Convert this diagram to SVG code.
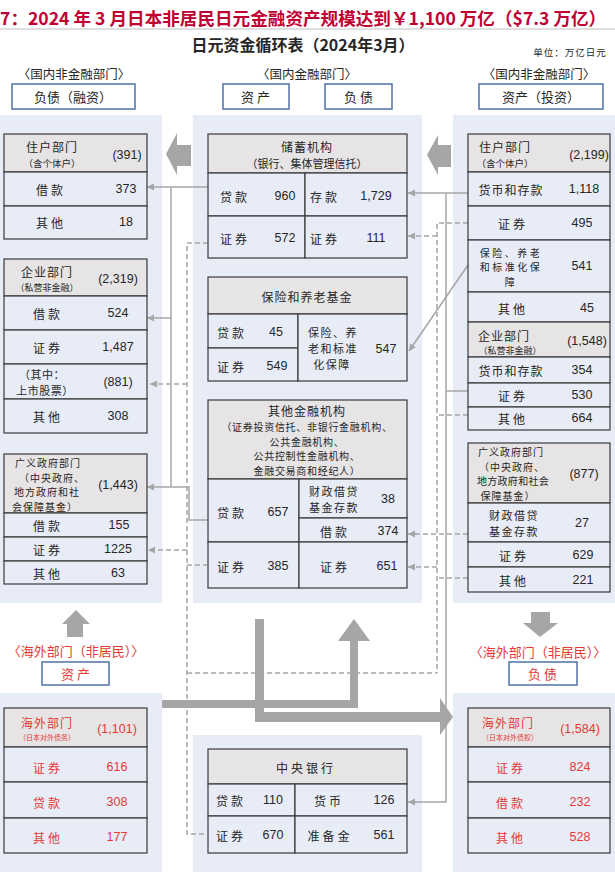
<svg xmlns="http://www.w3.org/2000/svg" width="615" height="872" viewBox="0 0 615 872">
<style>
.t{font-family:"Noto Sans CJK SC","Noto Sans",sans-serif;font-size:12px;fill:#262626;text-anchor:middle;dominant-baseline:central}
.n{font-family:"Liberation Sans",Arial,sans-serif;font-size:12.5px;fill:#262626;text-anchor:middle;dominant-baseline:central}
.sp{letter-spacing:3px}
.s1{letter-spacing:1px}
.sm{font-size:9px;letter-spacing:0}
.xs{font-size:7px;letter-spacing:0}
.m{font-size:10px;letter-spacing:1px}
.r{fill:#e53935}
.pnl{fill:#e8ecf7}
.cell{fill:#e8ecf7;stroke:#3a3a3a;stroke-width:1.2}
.hd{fill:#e6e4e4;stroke:#3a3a3a;stroke-width:1.2}
.hb{fill:#fff;stroke:#4f72a8;stroke-width:1.5}
.ln{fill:none;stroke:#a6a6a6;stroke-width:1.5}
.dl{stroke-dasharray:5 3}
.blk{fill:#a6a6a6}
tspan{dominant-baseline:central}
</style>
<defs>
<marker id="ah" markerUnits="userSpaceOnUse" markerWidth="8" markerHeight="8" refX="7" refY="3.5" orient="auto">
<path d="M0,0 L7,3.5 L0,7 z" fill="#a6a6a6"/>
</marker>
</defs>
<rect width="615" height="872" fill="#fff"/>
<g id="title">
<text x="0" y="17" style="font-family:'Noto Sans CJK SC',sans-serif;font-size:17.6px;font-weight:bold;fill:#c00032;dominant-baseline:central">7：2024 年 3 月日本非居民日元金融资产规模达到￥1,100 万亿（$7.3 万亿）</text>
<line x1="0" y1="29" x2="615" y2="29" stroke="#bfbfbf" stroke-width="1"/>
<text x="303" y="44" class="t" style="font-size:16px;font-weight:bold">日元资金循环表（2024年3月）</text>
<text x="570" y="52" class="t s1" style="font-size:9.5px">单位：万亿日元</text>
</g>
<g id="panels">
<rect class="pnl" x="0" y="115" width="162" height="488"/>
<rect class="pnl" x="193" y="115" width="229" height="488"/>
<rect class="pnl" x="453" y="115" width="162" height="488"/>
<rect class="pnl" x="0" y="693" width="162" height="179"/>
<rect class="pnl" x="193" y="735" width="229" height="137"/>
<rect class="pnl" x="453" y="693" width="162" height="179"/>
</g>
<g id="headers">
<text x="74" y="73" class="t" style="font-size:12.5px">〈国内非金融部门〉</text>
<text x="307" y="73" class="t" style="font-size:12.5px">〈国内金融部门〉</text>
<text x="539" y="73" class="t" style="font-size:12.5px">〈国内非金融部门〉</text>
<rect class="hb" x="12" y="84" width="123" height="25"/>
<text x="73" y="96.5" class="t" style="font-size:13px">负债（融资）</text>
<rect class="hb" x="223" y="84" width="66" height="25"/>
<text x="257" y="96.5" class="t sp" style="font-size:13px">资产</text>
<rect class="hb" x="325" y="84" width="67" height="25"/>
<text x="360" y="96.5" class="t sp" style="font-size:13px">负债</text>
<rect class="hb" x="479" y="84" width="124" height="25"/>
<text x="541" y="96.5" class="t" style="font-size:13px">资产（投资）</text>
<text x="76" y="650" class="t r" style="font-size:13px">〈海外部门（非居民）〉</text>
<rect class="hb" x="42" y="662" width="67" height="23"/>
<text x="77" y="673.5" class="t r sp" style="font-size:13px">资产</text>
<text x="538" y="651" class="t r" style="font-size:13px">〈海外部门（非居民）〉</text>
<rect class="hb" x="509" y="662" width="68" height="23"/>
<text x="544" y="673.5" class="t r sp" style="font-size:13px">负债</text>
</g>
<g id="connectors">
<path class="ln" d="M208,187 H147" marker-end="url(#ah)"/>
<path class="ln" d="M171,187 V487"/>
<path class="ln" d="M171,318 H147" marker-end="url(#ah)"/>
<path class="ln" d="M208,520 H189 V487 H147" marker-end="url(#ah)"/>
<path class="ln dl" d="M208,243 H187 V834 H207"/>
<path class="ln dl" d="M187,384 H150" marker-end="url(#ah)"/>
<path class="ln dl" d="M187,550 H148" marker-end="url(#ah)"/>
<path class="ln dl" d="M187,565 H207"/>
<path class="ln dl" d="M187,673 H437"/>
<path class="ln" d="M468,193 H408" marker-end="url(#ah)"/>
<path class="ln" d="M446,193 V802 H408" marker-end="url(#ah)"/>
<path class="ln" d="M446,391 H468"/>
<path class="ln" d="M468,265 L409,351" marker-end="url(#ah)"/>
<path class="ln dl" d="M468,223 H437 V673"/>
<path class="ln dl" d="M437,236 H408" marker-end="url(#ah)"/>
<path class="ln dl" d="M468,415 H437"/>
<path class="ln dl" d="M468,534 H408" marker-end="url(#ah)"/>
<path class="ln dl" d="M437,567 H408" marker-end="url(#ah)"/>
<path class="ln dl" d="M468,578 H437"/>
<polygon class="blk" points="166,154 177,133 177,145 191,145 191,166 177,166 177,175"/>
<polygon class="blk" points="427,155 438,135 438,145 451,145 451,167 438,167 438,175"/>
<polygon class="blk" points="76,610 90,624 83,624 83,637 67,637 67,624 62,624"/>
<polygon class="blk" points="531,612 550,612 550,623 558,623 540,637 523,623 531,623"/>
<polygon class="blk" points="162,700 350,700 350,641 338,641 354,619 370,641 358,641 358,708 162,708"/>
<polygon class="blk" points="255,619 264,619 264,712 440,712 440,698 453,717 440,735 440,722 255,722"/>
</g>
<g id="l-household">
<rect class="hd" x="4" y="134" width="143" height="38"/>
<rect class="cell" x="4" y="172" width="143" height="34"/>
<rect class="cell" x="4" y="206" width="143" height="33"/>
<text class="t s1"><tspan x="52" y="146">住户部门</tspan><tspan x="52" y="162.5" style="font-size:9.5px;letter-spacing:0">（含个体户）</tspan></text>
<text x="127" y="155" class="n">(391)</text>
<text x="51" y="189" class="t sp">借款</text>
<text x="126" y="189" class="n">373</text>
<text x="51" y="222" class="t sp">其他</text>
<text x="126" y="222" class="n">18</text>
</g>
<g id="l-corporate">
<rect class="hd" x="4" y="259" width="143" height="37"/>
<rect class="cell" x="4" y="296" width="143" height="34"/>
<rect class="cell" x="4" y="330" width="143" height="34"/>
<rect class="cell" x="4" y="364" width="143" height="35"/>
<rect class="cell" x="4" y="399" width="143" height="34"/>
<text class="t s1"><tspan x="47" y="271">企业部门</tspan><tspan x="47" y="286.5" class="sm">（私营非金融）</tspan></text>
<text x="118" y="279" class="n">(2,319)</text>
<text x="48" y="313" class="t sp">借款</text>
<text x="118" y="313" class="n">524</text>
<text x="48" y="347" class="t sp">证券</text>
<text x="118" y="347" class="n">1,487</text>
<text class="t" style="font-size:11px;letter-spacing:0.5px"><tspan x="42" y="374">（其中：</tspan><tspan x="45" y="390">上市股票）</tspan></text>
<text x="118" y="382" class="n">(881)</text>
<text x="48" y="416" class="t sp">其他</text>
<text x="118" y="416" class="n">308</text>
</g>
<g id="l-government">
<rect class="hd" x="4" y="454" width="143" height="59"/>
<rect class="cell" x="4" y="513" width="143" height="24"/>
<rect class="cell" x="4" y="537" width="143" height="24"/>
<rect class="cell" x="4" y="561" width="143" height="23"/>
<text class="t m"><tspan x="48" y="462">广义政府部门</tspan><tspan x="52" y="476.5">（中央政府、</tspan><tspan x="47" y="491">地方政府和社</tspan><tspan x="45" y="505.5">会保障基金）</tspan></text>
<text x="118" y="485" class="n">(1,443)</text>
<text x="48" y="525" class="t sp">借款</text>
<text x="119" y="525" class="n">155</text>
<text x="48" y="549" class="t sp">证券</text>
<text x="118" y="549" class="n">1225</text>
<text x="48" y="573" class="t sp">其他</text>
<text x="118" y="573" class="n">63</text>
</g>
<g id="l-overseas">
<rect class="hd" x="4" y="708" width="143" height="39"/>
<rect class="cell" x="4" y="747" width="143" height="35"/>
<rect class="cell" x="4" y="782" width="143" height="36"/>
<rect class="cell" x="4" y="818" width="143" height="35"/>
<text class="t r s1"><tspan x="47" y="722">海外部门</tspan><tspan x="47" y="737" class="xs">（日本对外债务）</tspan></text>
<text x="117" y="729" class="n r">(1,101)</text>
<text x="48" y="767" class="t r sp">证券</text>
<text x="117" y="767" class="n r">616</text>
<text x="48" y="802" class="t r sp">贷款</text>
<text x="117" y="802" class="n r">308</text>
<text x="48" y="837" class="t r sp">其他</text>
<text x="117" y="837" class="n r">177</text>
</g>
<g id="m-saving">
<rect class="hd" x="208" y="134" width="199" height="39"/>
<rect class="cell" x="208" y="173" width="97" height="43"/>
<rect class="cell" x="305" y="173" width="102" height="43"/>
<rect class="cell" x="208" y="216" width="97" height="42"/>
<rect class="cell" x="305" y="216" width="102" height="42"/>
<text class="t s1"><tspan x="307" y="146">储蓄机构</tspan><tspan x="307" y="163" style="font-size:11px;letter-spacing:0">（银行、集体管理信托）</tspan></text>
<text x="235" y="196" class="t sp">贷款</text>
<text x="285" y="196" class="n">960</text>
<text x="325" y="196" class="t sp">存款</text>
<text x="376" y="196" class="n">1,729</text>
<text x="235" y="238" class="t sp">证券</text>
<text x="285" y="238" class="n">572</text>
<text x="325" y="238" class="t sp">证券</text>
<text x="376" y="238" class="n">111</text>
</g>
<g id="m-insurance">
<rect class="hd" x="208" y="277" width="199" height="37"/>
<rect class="cell" x="208" y="314" width="90" height="34"/>
<rect class="cell" x="208" y="348" width="90" height="33"/>
<rect class="cell" x="298" y="314" width="109" height="67"/>
<text x="307" y="296" class="t s1">保险和养老基金</text>
<text x="232" y="332" class="t sp">贷款</text>
<text x="276" y="332" class="n">45</text>
<text x="232" y="366" class="t sp">证券</text>
<text x="277" y="366" class="n">549</text>
<text class="t" style="font-size:11px;letter-spacing:1.5px"><tspan x="333" y="332">保险、养</tspan><tspan x="333" y="348">老和标准</tspan><tspan x="332" y="364">化保障</tspan></text>
<text x="386" y="349" class="n">547</text>
</g>
<g id="m-other">
<rect class="hd" x="208" y="400" width="199" height="79"/>
<rect class="cell" x="208" y="479" width="91" height="63"/>
<rect class="cell" x="208" y="542" width="91" height="46"/>
<rect class="cell" x="299" y="479" width="108" height="39"/>
<rect class="cell" x="299" y="518" width="108" height="24"/>
<rect class="cell" x="299" y="542" width="108" height="46"/>
<text class="t" style="font-size:10px;letter-spacing:0.7px"><tspan x="307" y="410" style="font-size:12px;letter-spacing:1px">其他金融机构</tspan><tspan x="307" y="426">（证券投资信托、非银行金融机构、</tspan><tspan x="307" y="440.5">公共金融机构、</tspan><tspan x="307" y="455">公共控制性金融机构、</tspan><tspan x="307" y="469.5">金融交易商和经纪人）</tspan></text>
<text x="232" y="512" class="t sp">贷款</text>
<text x="278" y="512" class="n">657</text>
<text x="232" y="566" class="t sp">证券</text>
<text x="278" y="566" class="n">385</text>
<text class="t" style="font-size:11px;letter-spacing:1.5px"><tspan x="334" y="491">财政借贷</tspan><tspan x="334" y="507">基金存款</tspan></text>
<text x="388" y="499" class="n">38</text>
<text x="335" y="531" class="t sp">借款</text>
<text x="388" y="531" class="n">374</text>
<text x="335" y="566" class="t sp">证券</text>
<text x="387" y="566" class="n">651</text>
</g>
<g id="m-central">
<rect class="hd" x="208" y="749" width="199" height="35"/>
<rect class="cell" x="208" y="784" width="87" height="32"/>
<rect class="cell" x="295" y="784" width="112" height="32"/>
<rect class="cell" x="208" y="816" width="87" height="37"/>
<rect class="cell" x="295" y="816" width="112" height="37"/>
<text x="306" y="767" class="t sp">中央银行</text>
<text x="231" y="800" class="t sp">贷款</text>
<text x="273" y="800" class="n">110</text>
<text x="329" y="800" class="t sp">货币</text>
<text x="384" y="800" class="n">126</text>
<text x="231" y="835" class="t sp">证券</text>
<text x="273" y="835" class="n">670</text>
<text x="330" y="835" class="t sp">准备金</text>
<text x="384" y="835" class="n">561</text>
</g>
<g id="r-household-corporate">
<rect class="hd" x="468" y="134" width="142" height="38"/>
<rect class="cell" x="468" y="172" width="142" height="34"/>
<rect class="cell" x="468" y="206" width="142" height="34"/>
<rect class="cell" x="468" y="240" width="142" height="52"/>
<rect class="cell" x="468" y="292" width="142" height="30"/>
<rect class="hd" x="468" y="322" width="142" height="35"/>
<rect class="cell" x="468" y="357" width="142" height="26"/>
<rect class="cell" x="468" y="383" width="142" height="24"/>
<rect class="cell" x="468" y="407" width="142" height="23"/>
<text class="t s1"><tspan x="505" y="146">住户部门</tspan><tspan x="505" y="162.5" style="font-size:9.5px;letter-spacing:0">（含个体户）</tspan></text>
<text x="589" y="155" class="n">(2,199)</text>
<text x="511" y="189" class="t s1">货币和存款</text>
<text x="584" y="189" class="n">1,118</text>
<text x="513" y="223" class="t sp">证券</text>
<text x="582" y="223" class="n">495</text>
<text class="t" style="font-size:10px;letter-spacing:2.5px"><tspan x="511" y="251.5">保险、养老</tspan><tspan x="511" y="266">和标准化保</tspan><tspan x="511" y="280.5">障</tspan></text>
<text x="582" y="266" class="n">541</text>
<text x="513" y="308" class="t sp">其他</text>
<text x="587" y="308" class="n">45</text>
<text class="t s1"><tspan x="504" y="334.5">企业部门</tspan><tspan x="510" y="350" class="sm">（私营非金融）</tspan></text>
<text x="587" y="341" class="n">(1,548)</text>
<text x="511" y="370" class="t s1">货币和存款</text>
<text x="582" y="370" class="n">354</text>
<text x="513" y="395" class="t sp">证券</text>
<text x="582" y="395" class="n">530</text>
<text x="513" y="418" class="t sp">其他</text>
<text x="582" y="418" class="n">664</text>
</g>
<g id="r-government">
<rect class="hd" x="468" y="443" width="142" height="60"/>
<rect class="cell" x="468" y="503" width="142" height="39"/>
<rect class="cell" x="468" y="542" width="142" height="25"/>
<rect class="cell" x="468" y="567" width="142" height="25"/>
<text class="t m"><tspan x="511" y="451">广义政府部门</tspan><tspan x="512" y="465.5">（中央政府、</tspan><tspan x="513" y="480" style="letter-spacing:0.3px">地方政府和社会</tspan><tspan x="508" y="494.5">保障基金）</tspan></text>
<text x="584" y="474" class="n">(877)</text>
<text class="t" style="font-size:11px;letter-spacing:1.5px"><tspan x="514" y="514.5">财政借贷</tspan><tspan x="514" y="530.5">基金存款</tspan></text>
<text x="582" y="523" class="n">27</text>
<text x="514" y="555" class="t sp">证券</text>
<text x="583" y="555" class="n">629</text>
<text x="514" y="580" class="t sp">其他</text>
<text x="583" y="580" class="n">221</text>
</g>
<g id="r-overseas">
<rect class="hd" x="468" y="708" width="142" height="39"/>
<rect class="cell" x="468" y="747" width="142" height="35"/>
<rect class="cell" x="468" y="782" width="142" height="36"/>
<rect class="cell" x="468" y="818" width="142" height="35"/>
<text class="t r s1"><tspan x="508" y="722">海外部门</tspan><tspan x="510" y="737" class="xs">（日本对外债权）</tspan></text>
<text x="580" y="729" class="n r">(1,584)</text>
<text x="511" y="767" class="t r sp">证券</text>
<text x="580" y="767" class="n r">824</text>
<text x="511" y="802" class="t r sp">借款</text>
<text x="580" y="802" class="n r">232</text>
<text x="511" y="837" class="t r sp">其他</text>
<text x="580" y="837" class="n r">528</text>
</g>
</svg>
